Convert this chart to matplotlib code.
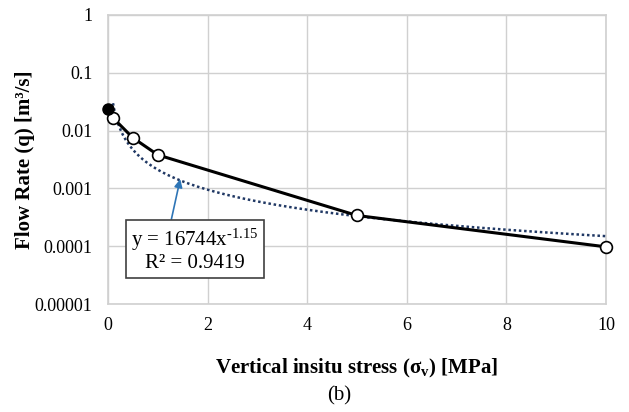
import numpy as np
import matplotlib.pyplot as plt
from matplotlib.ticker import FixedLocator, FuncFormatter

plt.rcParams['font.family'] = ['Liberation Serif', 'DejaVu Serif']
plt.rcParams['mathtext.fontset'] = 'custom'
plt.rcParams['mathtext.rm'] = 'Liberation Serif'
plt.rcParams['mathtext.it'] = 'Liberation Serif:italic'
plt.rcParams['mathtext.bf'] = 'Liberation Serif:bold'

# ── data ─────────────────────────────────────────
stress = [0.0, 0.1, 0.5, 1.0, 5.0, 10.0]            # MPa
flow = [0.0237, 0.0166, 0.0075, 0.0038, 0.00034, 0.0000975]  # m3/s

# power-law fit as printed (x in Pa)
fit_coef = 16744
fit_exp = -1.15
fit_r2 = 0.9419

y_ticks = [1e-5, 1e-4, 1e-3, 1e-2, 1e-1, 1]
y_tick_labels = ["0.00001", "0.0001", "0.001", "0.01", "0.1", "1"]
x_ticks = [0, 2, 4, 6, 8, 10]

grid_col = "#d0d0d0"

fig = plt.figure(figsize=(6.29, 4.12), dpi=100)
ax = fig.add_axes([0.1717, 0.2621, 0.7917, 0.7015])

# trendline
xs = np.linspace(0.1, 10, 300)
ys = fit_coef * (xs * 1e6) ** fit_exp
ax.plot(xs, ys, color="#203864", lw=1.8, ls=(0, (1, 1.1)), zorder=3)

# measured
ax.plot(stress, flow, color="black", lw=2.2, zorder=4, clip_on=False)
ax.plot(stress[1:], flow[1:], ls="none", marker="o", ms=8.5,
        mfc="white", mec="black", mew=1.2, zorder=5, clip_on=False)
ax.plot(stress[:1], flow[:1], ls="none", marker="o", ms=8,
        mfc="black", mec="black", zorder=6, clip_on=False)

ax.set_yscale("log")
ax.set_xlim(0, 10)
ax.set_ylim(1e-5, 1)
ax.yaxis.set_major_locator(FixedLocator(y_ticks))
ax.yaxis.set_major_formatter(FuncFormatter(lambda v, p: y_tick_labels[y_ticks.index(v)] if v in y_ticks else ""))
ax.yaxis.set_minor_locator(FixedLocator([]))
ax.set_xticks(x_ticks)
ax.tick_params(axis="x", length=0, labelsize=13, pad=9)
ax.tick_params(axis="y", length=0, labelsize=13, pad=11)
ax.grid(True, color=grid_col, lw=1)
for s in ax.spines.values():
    s.set_color(grid_col)
    s.set_linewidth(1.2)

ax.set_ylabel("Flow Rate (q) [m³/s]", fontsize=15, fontweight="bold", labelpad=0)
ax.set_xlabel("Vertical insitu stress (σ$_\\mathbf{v}$) [MPa]", fontsize=15,
              fontweight="bold", labelpad=17)

# equation label with arrow
ax.annotate("y = %dx$^{\\text{%.2f}}$\nR² = %.4f" % (fit_coef, fit_exp, fit_r2),
            xy=(1.45, 1.45e-3), xytext=(1.75, 8.6e-5),
            fontsize=15, ha="center", va="center", multialignment="center",
            linespacing=1.05,
            bbox=dict(boxstyle="square,pad=0.25", fc="white", ec="#404040", lw=1.2),
            arrowprops=dict(arrowstyle="-|>", color="#2E75B6", lw=1.2, relpos=(0.3, 1),
                            shrinkA=0, shrinkB=0, mutation_scale=12),
            zorder=7)

fig.text(0.54, 0.04, "(b)", fontsize=15, ha="center", va="center")

fig.savefig("out.png", dpi=100)
